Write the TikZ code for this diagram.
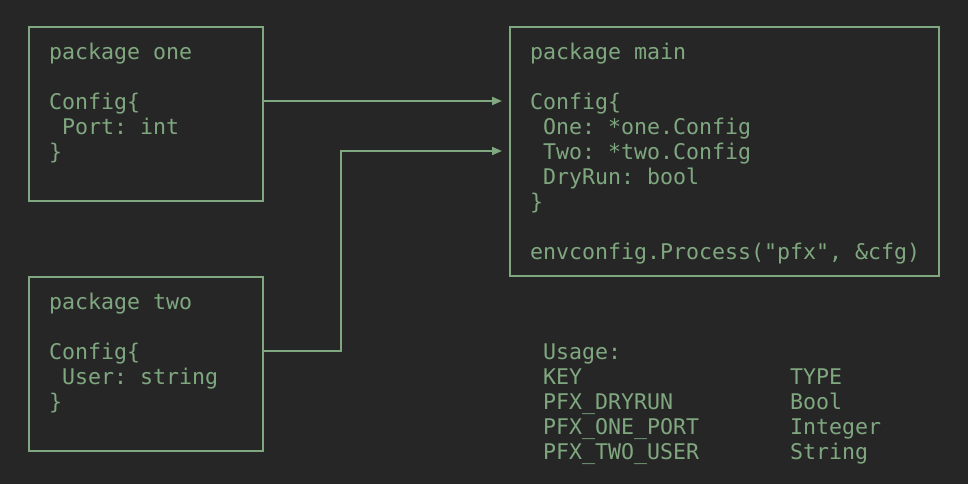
\documentclass[tikz,border=0pt]{standalone}
\usepackage{fontspec}
\setmonofont{DejaVu Sans Mono}
\usetikzlibrary{arrows.meta}
\definecolor{bg}{HTML}{262626}
\definecolor{fg}{HTML}{80A880}
\newcommand{\codefont}{\ttfamily\fontsize{21.6}{25}\selectfont}
\begin{document}
\begin{tikzpicture}[x=1pt,y=1pt,
  box/.style={draw=fg, line width=2pt, outer sep=0pt, inner sep=0pt, anchor=north west},
  txt/.style={anchor=base west, inner sep=0pt, outer sep=0pt, text=fg, font=\codefont, yshift=-1.5pt},
  arr/.style={draw=fg, line width=2pt, -{Triangle[length=10pt,width=8pt]}, shorten >=8pt}]
\fill[bg] (0,0) rectangle (968,-484);
\useasboundingbox (0,0) rectangle (968,-484);
% boxes
\node[box, minimum width=234pt, minimum height=174pt] (one) at (29,-27) {};
\node[box, minimum width=234pt, minimum height=174pt] (two) at (29,-277) {};
\node[box, minimum width=429pt, minimum height=249pt] (main) at (510,-27) {};
% package one
\node[txt] (oneHead) at (49,-58) {package one};
\node[txt] (oneCfg) at (49,-108) {Config\{};
\node[txt] (onePort) at (62,-133) {Port: int};
\node[txt] (oneEnd) at (49,-158) {\}};
% package two
\node[txt] (twoHead) at (49,-308) {package two};
\node[txt] (twoCfg) at (49,-358) {Config\{};
\node[txt] (twoUser) at (62,-383) {User: string};
\node[txt] (twoEnd) at (49,-408) {\}};
% package main
\node[txt] (mHead) at (530,-58) {package main};
\node[txt] (mCfg) at (530,-108) {Config\{};
\node[txt] (mOne) at (543,-133) {One: *one.Config};
\node[txt] (mTwo) at (543,-158) {Two: *two.Config};
\node[txt] (mDry) at (543,-183) {DryRun: bool};
\node[txt] (mEnd) at (530,-208) {\}};
\node[txt] (mProc) at (530,-258) {envconfig.Process("pfx", \&cfg)};
% usage
\node[txt] (uHead) at (543,-358) {Usage:};
\node[txt] (uKey) at (543,-383) {KEY};
\node[txt] (uType) at (790,-383) {TYPE};
\node[txt] (uK1) at (543,-408) {PFX\_DRYRUN};
\node[txt] (uT1) at (790,-408) {Bool};
\node[txt] (uK2) at (543,-433) {PFX\_ONE\_PORT};
\node[txt] (uT2) at (790,-433) {Integer};
\node[txt] (uK3) at (543,-458) {PFX\_TWO\_USER};
\node[txt] (uT3) at (790,-458) {String};
% arrows
\coordinate (y1) at ([yshift=8.5pt]oneCfg.base);
\coordinate (y2) at ([yshift=8.5pt]twoCfg.base);
\coordinate (y3) at ([yshift=8.5pt]mTwo.base);
\draw[arr] (one.east |- y1) -- (main.west |- y1);
\draw[arr] (two.east |- y2) -- (341,0 |- y2) |- (main.west |- y3);
\end{tikzpicture}
\end{document}
